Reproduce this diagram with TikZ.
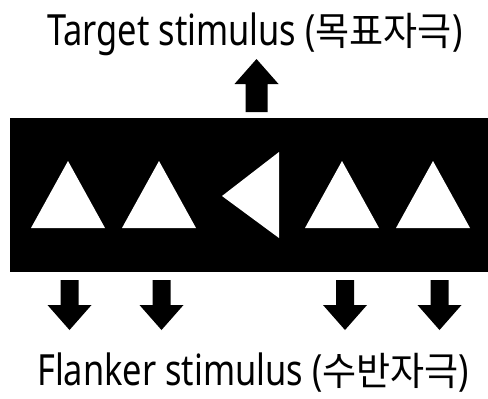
\documentclass[tikz,border=0pt]{standalone}
\usepackage{fontspec}
\setmainfont{Noto Sans}[FakeStretch=0.8]
\newfontfamily\kr{Noto Sans CJK KR}[FakeStretch=0.95]
\begin{document}
\begin{tikzpicture}[x=1bp,y=-1bp,
  lbl/.style={inner sep=0pt, anchor=base west, font=\fontsize{43bp}{50bp}\selectfont},
  tri/.style={fill=white, draw=none},
  uparrow/.pic={\fill (0,0) -- (22,25) -- (11,25) -- (11,53) -- (-11,53) -- (-11,25) -- (-22,25) -- cycle;},
  downarrow/.pic={\fill (0,0) -- (22,-25) -- (9,-25) -- (9,-50) -- (-9,-50) -- (-9,-25) -- (-22,-25) -- cycle;}
]
\useasboundingbox (0,0) rectangle (488,398);
% labels
\node[lbl] (target) at (47,45) {Target stimulus ({\kr\fontsize{39bp}{44bp}\selectfont 목표자극})};
\node[lbl] (flanker) at (37,385) {Flanker stimulus ({\kr\fontsize{39bp}{44bp}\selectfont 수반자극})};
% display panel
\fill[black] (10,118) rectangle (488,272);
\coordinate (panel) at (249,195);
% triangles
\fill[tri] (31,228) -- (68,161) -- (105,228) -- cycle;
\fill[tri] (122,228) -- (159,161) -- (196,228) -- cycle;
\fill[tri] (222,196) -- (279,152) -- (279,238) -- cycle;
\fill[tri] (305,228) -- (342,161) -- (379,228) -- cycle;
\fill[tri] (396,228) -- (433,161) -- (470,228) -- cycle;
% arrows
\pic at (256.5,59) {uparrow};
\pic at (69.5,330) {downarrow};
\pic at (161.5,330) {downarrow};
\pic at (345,330) {downarrow};
\pic at (439.5,330) {downarrow};
\end{tikzpicture}
\end{document}
